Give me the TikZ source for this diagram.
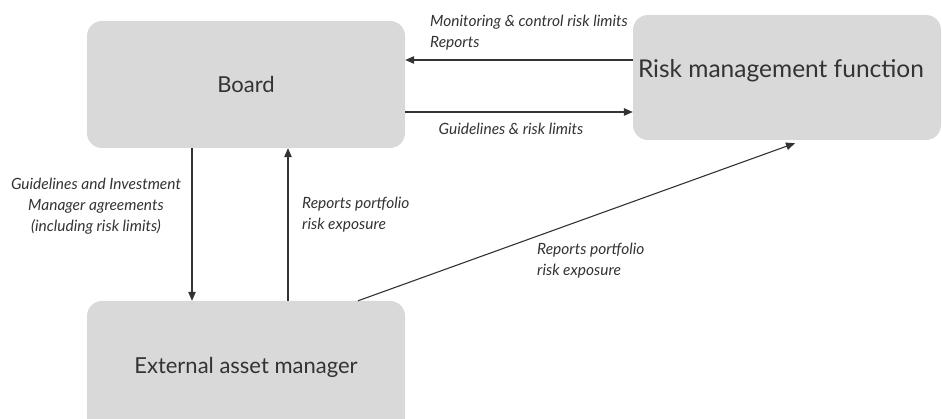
\documentclass[tikz,border=0pt]{standalone}
\usepackage{fontspec}
\setmainfont{Lato}
\usetikzlibrary{arrows.meta,calc}
\definecolor{boxfill}{HTML}{D9D9D9}
\definecolor{ink}{HTML}{333333}
\tikzset{
  x=1pt,y=1pt,
  box/.style={fill=boxfill,rounded corners=15pt,inner sep=0pt,text=ink,font=\fontsize{22}{26}\selectfont},
  arr/.style={draw=ink,line width=1.1pt,-{Triangle[length=9pt,width=7.5pt]}},
  lbl/.style={text=ink,inner sep=0pt,font=\fontsize{15.5}{21}\selectfont\itshape}
}
\begin{document}
\begin{tikzpicture}
\useasboundingbox (0,0) rectangle (942,419);
\clip (0,0) rectangle (942,419);
\node[box,minimum width=318pt,minimum height=127pt] (board) at (246,334.5) {Board};
\node[box,minimum width=308pt,minimum height=125pt] (risk) at (787,341.5) {\fontsize{24.5}{28}\selectfont\raisebox{0pt}[0pt][0pt]{\hspace{-12pt}Risk management function}};
\node[box,minimum width=318pt,minimum height=133pt] (ext) at (246,51.5) {External asset manager};
% horizontal arrows
\coordinate (ytop) at (0,359);
\coordinate (ybot) at (0,307);
\draw[arr] (risk.west |- ytop) -- (board.east |- ytop);
\draw[arr] (board.east |- ybot) -- (risk.west |- ybot);
% vertical arrows
\draw[arr] ([xshift=-54pt]board.south) -- ([xshift=-54pt]ext.north);
\draw[arr] ([xshift=42pt]ext.north) -- ([xshift=42pt]board.south);
% diagonal
\draw[arr] ([xshift=112pt]ext.north) -- ([xshift=8pt,yshift=-3pt]risk.south);
% labels
\node[lbl,anchor=west,align=left] (l1) at (430,386.5) {Monitoring \& control risk limits\\Reports};
\node[lbl] (l2) at (511,290) {Guidelines \& risk limits};
\node[lbl,align=center] (l3) at (96,212.5) {Guidelines and Investment\\Manager agreements\\(including risk limits)};
\node[lbl,anchor=west,align=left] (l4) at (302,204.5) {Reports portfolio\\risk exposure};
\node[lbl,anchor=west,align=left] (l5) at (537,158.5) {Reports portfolio\\risk exposure};
\end{tikzpicture}
\end{document}
